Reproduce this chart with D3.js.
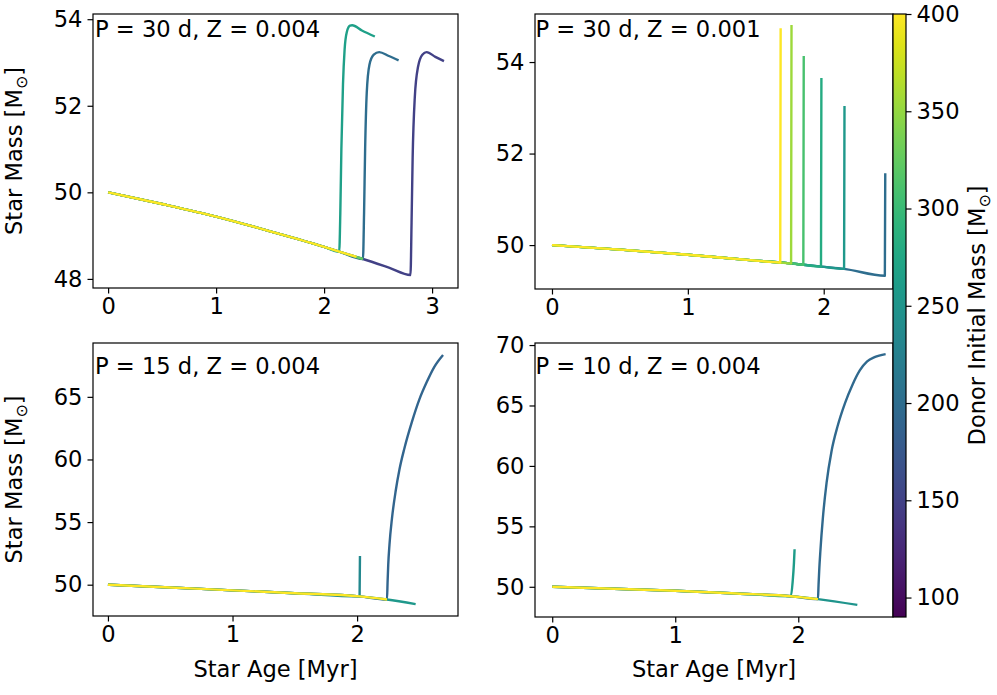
<!DOCTYPE html>
<html>
<head>
<meta charset="utf-8">
<script src="https://cdn.jsdelivr.net/npm/d3@7"></script>
<style>
  body { margin: 0; background: #fff; }
  svg text { font-family: "DejaVu Sans", sans-serif; fill: #000; }
</style>
</head>
<body>
<svg id="chart" width="997" height="695"></svg>
<script>
// ---- data: accretor mass tracks, coloured by donor initial mass ----
const donorRange = [90, 400];
const colorbarTicks = [100, 150, 200, 250, 300, 350, 400];

const panelTitles = ["P = 30 d, Z = 0.004", "P = 30 d, Z = 0.001", "P = 15 d, Z = 0.004", "P = 10 d, Z = 0.004"];
const xTicks = [[0, 1, 2, 3], [0, 1, 2], [0, 1, 2], [0, 1, 2]];
const yTicks = [[48, 50, 52, 54], [50, 52, 54], [50, 55, 60, 65], [50, 55, 60, 65, 70]];
const xDomains = [[-0.14, 3.24], [-0.125, 2.51], [-0.12, 2.81], [-0.14, 2.77]];
const yDomains = [[47.79, 54.12], [49.04, 55.05], [47.5, 69.3], [47.5, 70.17]];

// shared main-sequence stretch for each panel
const baseAgeA = [0, 0.5, 1, 1.5, 2, 2.14, 2.36, 2.6, 2.8];
const baseMassA = [50, 49.73, 49.44, 49.10, 48.74, 48.63, 48.46, 48.26, 48.09];
const baseAgeB = [0, 0.5, 1, 1.5, 1.68, 1.76, 1.85, 1.98, 2.15, 2.45];
const baseMassB = [50, 49.9, 49.79, 49.66, 49.62, 49.6, 49.57, 49.53, 49.48, 49.33];
const baseAgeC = [0, 0.5, 1, 1.5, 2.02, 2.24, 2.47];
const baseMassC = [50, 49.78, 49.55, 49.32, 49.07, 48.82, 48.45];
const baseAgeD = [0, 0.5, 1, 1.5, 1.94, 2.16, 2.48];
const baseMassD = [50, 49.84, 49.67, 49.45, 49.22, 48.98, 48.5];

// each track: donor mass, number of shared points it follows, then its own branch
const tracksA = [
  { donor: 150, join: 9, age: [2.81, 2.82, 2.84, 2.87, 2.91, 2.95, 3.03, 3.11], mass: [49.3, 50.8, 52.2, 52.9, 53.18, 53.24, 53.13, 53.03] },
  { donor: 200, join: 7, age: [2.37, 2.38, 2.395, 2.42, 2.46, 2.51, 2.6, 2.69], mass: [49.5, 51, 52.3, 52.95, 53.18, 53.24, 53.15, 53.05] },
  { donor: 265, join: 6, age: [2.15, 2.16, 2.175, 2.19, 2.21, 2.24, 2.26, 2.35, 2.47], mass: [49.5, 51, 52.5, 53.3, 53.7, 53.85, 53.86, 53.74, 53.6] },
  { donor: 325, join: 7, age: [], mass: [] },
  { donor: 400, join: 6, age: [2.3], mass: [48.51] }
];
const tracksB = [
  { donor: 200, join: 10, age: [2.453], mass: [51.57] },
  { donor: 255, join: 9, age: [2.153], mass: [53.04] },
  { donor: 280, join: 8, age: [1.983], mass: [53.65] },
  { donor: 310, join: 7, age: [1.853], mass: [54.13] },
  { donor: 355, join: 6, age: [1.763], mass: [54.81] },
  { donor: 400, join: 5, age: [1.683], mass: [54.74] }
];
const tracksC = [
  { donor: 190, join: 6,
    age: [2.245, 2.25, 2.26, 2.28, 2.31, 2.34, 2.38, 2.44, 2.50, 2.56, 2.62, 2.69],
    mass: [50.3, 51.6, 53.2, 55.3, 57.5, 59.2, 60.9, 63.0, 64.8, 66.2, 67.4, 68.35] },
  { donor: 235, join: 5, age: [2.023], mass: [52.3] },
  { donor: 255, join: 7, age: [], mass: [] },
  { donor: 400, join: 6, age: [], mass: [] }
];
const tracksD = [
  { donor: 195, join: 6,
    age: [2.165, 2.17, 2.18, 2.20, 2.23, 2.27, 2.32, 2.38, 2.44, 2.50, 2.56, 2.62, 2.71],
    mass: [50.2, 51.3, 53.0, 55.7, 58.6, 61.2, 63.3, 65.2, 66.7, 67.9, 68.65, 69.0, 69.25] },
  { donor: 260, join: 5, age: [1.955, 1.965, 1.97], mass: [50.5, 52, 53.1] },
  { donor: 250, join: 7, age: [], mass: [] },
  { donor: 400, join: 6, age: [], mass: [] }
];

const bases = [[baseAgeA, baseMassA], [baseAgeB, baseMassB], [baseAgeC, baseMassC], [baseAgeD, baseMassD]];
const trackSets = [tracksA, tracksB, tracksC, tracksD];

// ---- layout ----
const frames = [
  { x0: 93, x1: 458, y0: 14, y1: 288, tx: 2, ty: 23 },
  { x0: 535, x1: 893, y0: 14, y1: 289, tx: 0.5, ty: 23 },
  { x0: 93, x1: 458, y0: 343, y1: 616, tx: 2, ty: 31 },
  { x0: 535, x1: 893, y0: 343, y1: 617, tx: 0.5, ty: 31 }
];
const FONT = 22.6;
const TICK = 5.5;

const svg = d3.select("#chart");
const color = d3.scaleSequential(d3.interpolateViridis).domain(donorRange);

frames.forEach((f, i) => {
  const x = d3.scaleLinear().domain(xDomains[i]).range([f.x0, f.x1]);
  const y = d3.scaleLinear().domain(yDomains[i]).range([f.y1, f.y0]);
  const g = svg.append("g");

  const clipId = "clip" + i;
  g.append("clipPath").attr("id", clipId).append("rect")
    .attr("x", f.x0).attr("y", f.y0).attr("width", f.x1 - f.x0).attr("height", f.y1 - f.y0);

  const line = d3.line().x(d => x(d[0])).y(d => y(d[1])).curve(d3.curveMonotoneX);
  const [bAge, bMass] = bases[i];
  const tracks = trackSets[i].slice().sort((a, b) => a.donor - b.donor);
  g.append("g").attr("clip-path", `url(#${clipId})`)
    .selectAll("path").data(tracks).join("path")
    .attr("d", t => {
      const pts = bAge.slice(0, t.join).map((a, k) => [a, bMass[k]])
        .concat(t.age.map((a, k) => [a, t.mass[k]]));
      return line(pts);
    })
    .attr("fill", "none")
    .attr("stroke", t => color(t.donor))
    .attr("stroke-width", 2.4)
    .attr("stroke-linejoin", "round")
    .attr("stroke-linecap", "butt");

  // axes
  const ax = g.append("g").attr("transform", `translate(0,${f.y1})`)
    .call(d3.axisBottom(x).tickValues(xTicks[i]).tickFormat(d3.format("d")).tickSize(TICK).tickSizeOuter(0).tickPadding(4));
  const ay = g.append("g").attr("transform", `translate(${f.x0},0)`)
    .call(d3.axisLeft(y).tickValues(yTicks[i]).tickFormat(d3.format("d")).tickSize(TICK).tickSizeOuter(0).tickPadding(5));
  [ax, ay].forEach(a => {
    a.select(".domain").remove();
    a.selectAll(".tick line").attr("stroke", "#000").attr("stroke-width", 1.2);
    a.selectAll(".tick text").attr("font-size", FONT).attr("font-family", "DejaVu Sans").attr("fill", "#000");
  });

  // frame
  g.append("rect")
    .attr("x", f.x0).attr("y", f.y0).attr("width", f.x1 - f.x0).attr("height", f.y1 - f.y0)
    .attr("fill", "none").attr("stroke", "#000").attr("stroke-width", 1.2);

  g.append("text")
    .attr("x", f.x0 + f.tx).attr("y", f.y0 + f.ty)
    .attr("font-size", FONT)
    .text(panelTitles[i]);
});

// axis titles with the solar-mass symbol
function massLabel(sel, prefix) {
  sel.append("tspan").text(prefix + "[M");
  sel.append("tspan").attr("font-size", FONT * 0.7).attr("dy", "0.3em").text("\u2299");
  sel.append("tspan").attr("dy", "-0.21em").text("]");
}
[[22, (frames[0].y0 + frames[0].y1) / 2], [22, (frames[2].y0 + frames[2].y1) / 2]].forEach(([cx, cy]) => {
  const t = svg.append("text").attr("font-size", FONT).attr("text-anchor", "middle")
    .attr("transform", `translate(${cx},${cy}) rotate(-90)`);
  massLabel(t, "Star Mass ");
});
[frames[2], frames[3]].forEach(f => {
  svg.append("text").attr("font-size", FONT).attr("text-anchor", "middle")
    .attr("x", (f.x0 + f.x1) / 2).attr("y", 677)
    .text("Star Age [Myr]");
});

// colorbar
const cb = { x0: 893, x1: 906, y0: 14, y1: 617 };
const cy = d3.scaleLinear().domain(donorRange).range([cb.y1, cb.y0]);
const grad = svg.append("defs").append("linearGradient").attr("id", "viridisGrad")
  .attr("x1", 0).attr("y1", 1).attr("x2", 0).attr("y2", 0);
d3.range(0, 1.0001, 0.05).forEach(s => {
  grad.append("stop").attr("offset", s).attr("stop-color", d3.interpolateViridis(s));
});
svg.append("rect").attr("x", cb.x0).attr("y", cb.y0).attr("width", cb.x1 - cb.x0).attr("height", cb.y1 - cb.y0)
  .attr("fill", "url(#viridisGrad)").attr("stroke", "#000").attr("stroke-width", 1.2);
const cax = svg.append("g").attr("transform", `translate(${cb.x1},0)`)
  .call(d3.axisRight(cy).tickValues(colorbarTicks).tickSize(TICK).tickSizeOuter(0).tickPadding(5));
cax.select(".domain").remove();
cax.selectAll(".tick line").attr("stroke", "#000").attr("stroke-width", 1.2);
cax.selectAll(".tick text").attr("font-size", FONT).attr("font-family", "DejaVu Sans").attr("fill", "#000");

const cl = svg.append("text").attr("font-size", FONT).attr("text-anchor", "middle")
  .attr("transform", `translate(985,${(cb.y0 + cb.y1) / 2}) rotate(-90)`);
massLabel(cl, "Donor Initial Mass ");
</script>
</body>
</html>
